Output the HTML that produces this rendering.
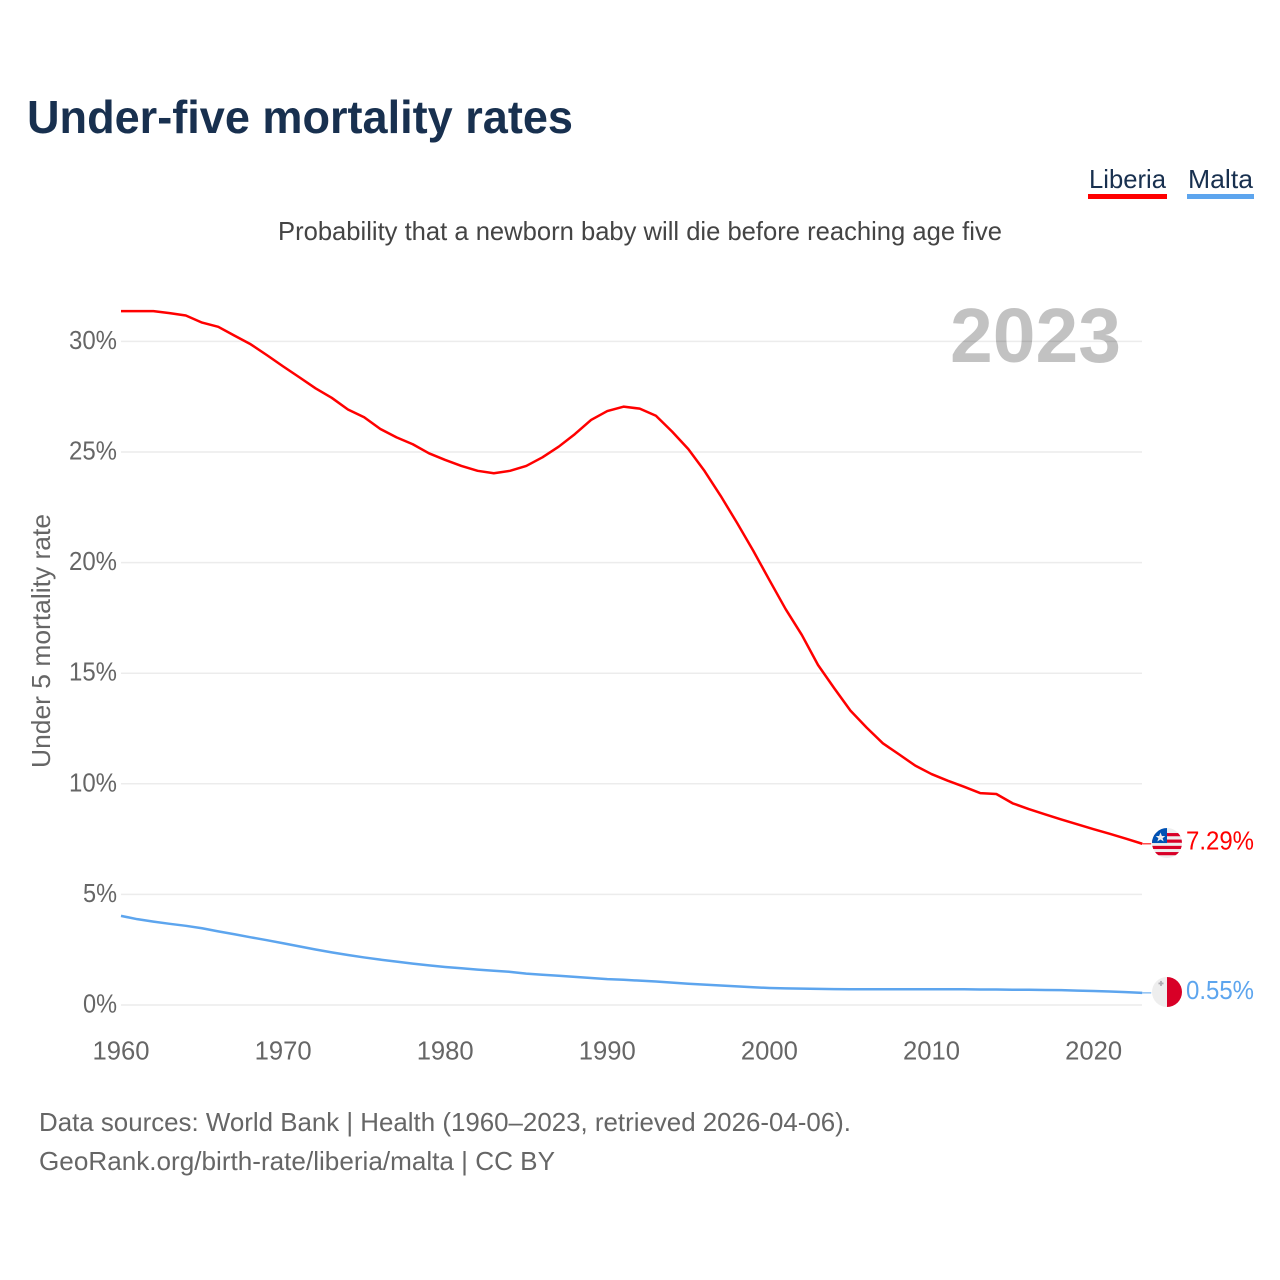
<!DOCTYPE html>
<html lang="en">
<head>
<meta charset="utf-8">
<title>Under-five mortality rates</title>
<style>
html,body{margin:0;padding:0;background:#fff}
svg{display:block}
text{font-family:"Liberation Sans",sans-serif}
</style>
</head>
<body>
<svg id="chart" xmlns="http://www.w3.org/2000/svg" width="1280" height="1280" viewBox="0 0 1280 1280">
  <rect width="1280" height="1280" fill="#fff"/>
  <text x="27" y="133" font-size="46" font-weight="700" fill="#18304f" textLength="546" lengthAdjust="spacingAndGlyphs">Under-five mortality rates</text>
  <g>
    <text x="1089" y="188" font-size="26" fill="#18304f" textLength="77" lengthAdjust="spacingAndGlyphs">Liberia</text>
    <rect x="1088" y="194" width="79" height="5" fill="#ff0000"/>
  </g>
  <g>
    <text x="1188" y="188" font-size="26" fill="#18304f" textLength="65" lengthAdjust="spacingAndGlyphs">Malta</text>
    <rect x="1187" y="194" width="67" height="5" fill="#5da5ee"/>
  </g>
  <text x="278" y="240" font-size="26" fill="#444" textLength="724" lengthAdjust="spacingAndGlyphs">Probability that a newborn baby will die before reaching age five</text>
  <g id="grid"></g>
  <text id="year-label" x="1121" y="362" text-anchor="end" font-size="77" font-weight="700" fill="#000" fill-opacity="0.24" textLength="171" lengthAdjust="spacingAndGlyphs"></text>
  <g id="y-ticks"></g>
  <g id="x-ticks"></g>
  <text transform="translate(50,641) rotate(-90)" text-anchor="middle" font-size="26" fill="#666" textLength="254" lengthAdjust="spacingAndGlyphs">Under 5 mortality rate</text>
  <g id="series"></g>
  <clipPath id="clip-liberia"><circle cx="1167" cy="843" r="15"/></clipPath>
  <clipPath id="clip-malta"><circle cx="1167" cy="992" r="15"/></clipPath>
  <g id="flag-liberia" clip-path="url(#clip-liberia)">
    <rect x="1152" y="828" width="30" height="30" fill="#eeeeee"/>
    <rect x="1152" y="833" width="30" height="3.2" fill="#d80027"/>
    <rect x="1152" y="839.5" width="30" height="3.2" fill="#d80027"/>
    <rect x="1152" y="845.8" width="30" height="3.2" fill="#d80027"/>
    <rect x="1152" y="852" width="30" height="3.2" fill="#d80027"/>
    <rect x="1152" y="828" width="15" height="15" fill="#0052b4"/>
    <polygon points="1160.5,832.5 1161.9,836 1165.3,836 1162.6,838.2 1163.7,841.5 1160.5,839.5 1157.3,841.5 1158.4,838.2 1155.7,836 1159.1,836" fill="#eeeeee"/>
  </g>
  <g id="flag-malta" clip-path="url(#clip-malta)">
    <rect x="1152" y="977" width="15" height="30" fill="#eeeeee"/>
    <rect x="1167" y="977" width="15" height="30" fill="#d80027"/>
    <rect x="1158.5" y="982.5" width="5" height="1.8" fill="#acabb1"/>
    <rect x="1160.1" y="980.9" width="1.8" height="5" fill="#acabb1"/>
  </g>
  <g id="end-labels"></g>
  <text x="39" y="1131" font-size="26" fill="#666" textLength="812" lengthAdjust="spacingAndGlyphs">Data sources: World Bank | Health (1960–2023, retrieved 2026-04-06).</text>
  <text x="39" y="1170" font-size="26" fill="#666" textLength="516" lengthAdjust="spacingAndGlyphs">GeoRank.org/birth-rate/liberia/malta | CC BY</text>
</svg>
<script>
const firstYear = 1960;
const xTickYears = [1960, 1970, 1980, 1990, 2000, 2010, 2020];
const yTickValues = [0, 5, 10, 15, 20, 25, 30];
const liberiaValues = [31.37,31.37,31.37,31.28,31.17,30.85,30.66,30.26,29.87,29.38,28.87,28.38,27.88,27.45,26.92,26.57,26.04,25.66,25.35,24.94,24.64,24.37,24.15,24.04,24.15,24.37,24.76,25.24,25.81,26.45,26.85,27.05,26.96,26.64,25.92,25.13,24.14,23.01,21.8,20.54,19.21,17.9,16.73,15.37,14.32,13.31,12.54,11.83,11.33,10.82,10.44,10.14,9.87,9.58,9.54,9.12,8.86,8.62,8.39,8.17,7.95,7.74,7.52,7.29];
const maltaValues = [4.03,3.88,3.77,3.67,3.58,3.47,3.33,3.2,3.06,2.93,2.79,2.65,2.51,2.38,2.26,2.15,2.05,1.96,1.87,1.79,1.72,1.66,1.6,1.55,1.5,1.42,1.37,1.32,1.27,1.22,1.17,1.14,1.1,1.06,1.01,0.96,0.92,0.88,0.84,0.8,0.77,0.75,0.74,0.73,0.72,0.71,0.71,0.71,0.71,0.71,0.71,0.71,0.71,0.7,0.7,0.69,0.69,0.68,0.67,0.65,0.63,0.61,0.58,0.55];

const SVG_NS = 'http://www.w3.org/2000/svg';
const plotLeft = 121, plotRight = 1142, zeroY = 1005, pxPerPercent = 22.12, pxPerYear = 16.21;
function xScale(year) { return plotLeft + (year - firstYear) * pxPerYear; }
function yScale(value) { return zeroY - value * pxPerPercent; }

function make(tag, attrs, text) {
  const el = document.createElementNS(SVG_NS, tag);
  Object.keys(attrs).forEach(function (k) { el.setAttribute(k, attrs[k]); });
  if (text !== undefined) el.textContent = text;
  return el;
}

const gridGroup = document.getElementById('grid');
const yGroup = document.getElementById('y-ticks');
yTickValues.forEach(function (v) {
  const line = make('line', { x1: plotLeft, x2: plotRight, y1: yScale(v), y2: yScale(v), stroke: '#ececec', 'stroke-width': 1.5 });
  
  
  gridGroup.appendChild(line);
  const label = v + '%';
  const t = make('text', { x: 117, y: yScale(v) + 7.5, 'text-anchor': 'end', 'font-size': 26, fill: '#666', textLength: label.length === 3 ? 48 : 34, lengthAdjust: 'spacingAndGlyphs' }, label);
  
  
  yGroup.appendChild(t);
});

const xGroup = document.getElementById('x-ticks');
xTickYears.forEach(function (year) {
  const t = make('text', { x: xScale(year), y: 1059.5, 'text-anchor': 'middle', 'font-size': 26, fill: '#666', textLength: 57, lengthAdjust: 'spacingAndGlyphs' }, String(year));
  
  
  xGroup.appendChild(t);
});

function pathFor(values) {
  return values.map(function (v, i) {
    return (i ? 'L' : 'M') + xScale(firstYear + i).toFixed(2) + ' ' + yScale(v).toFixed(2);
  }).join(' ');
}

const seriesGroup = document.getElementById('series');
const labelGroup = document.getElementById('end-labels');

function drawSeries(values, color, name) {
  const last = values[values.length - 1];
  const endX = xScale(firstYear + values.length - 1);
  const path = make('path', { d: pathFor(values), fill: 'none', stroke: color, 'stroke-width': 2.5, 'stroke-linejoin': 'round' });
  
  
  seriesGroup.appendChild(path);
  const lead = make('line', { x1: endX, x2: endX + 9, y1: yScale(last), y2: yScale(last), stroke: color, 'stroke-width': 1.5, 'stroke-opacity': 0.7 });
  
  
  seriesGroup.appendChild(lead);
  const t = make('text', { x: 1186, y: yScale(last) + 6, 'font-size': 26, fill: color, textLength: 68, lengthAdjust: 'spacingAndGlyphs' }, last.toFixed(2) + '%');
  
  
  labelGroup.appendChild(t);
  return yScale(last);
}

const liberiaEndY = drawSeries(liberiaValues, '#ff0000', 'liberia');
const maltaEndY = drawSeries(maltaValues, '#5da5ee', 'malta');
document.getElementById('flag-liberia').setAttribute('transform', 'translate(0,' + (liberiaEndY - 843.7) + ')');
document.getElementById('flag-malta').setAttribute('transform', 'translate(0,' + (maltaEndY - 992.8) + ')');
document.getElementById('year-label').textContent = String(firstYear + liberiaValues.length - 1);
</script>
</body>
</html>
